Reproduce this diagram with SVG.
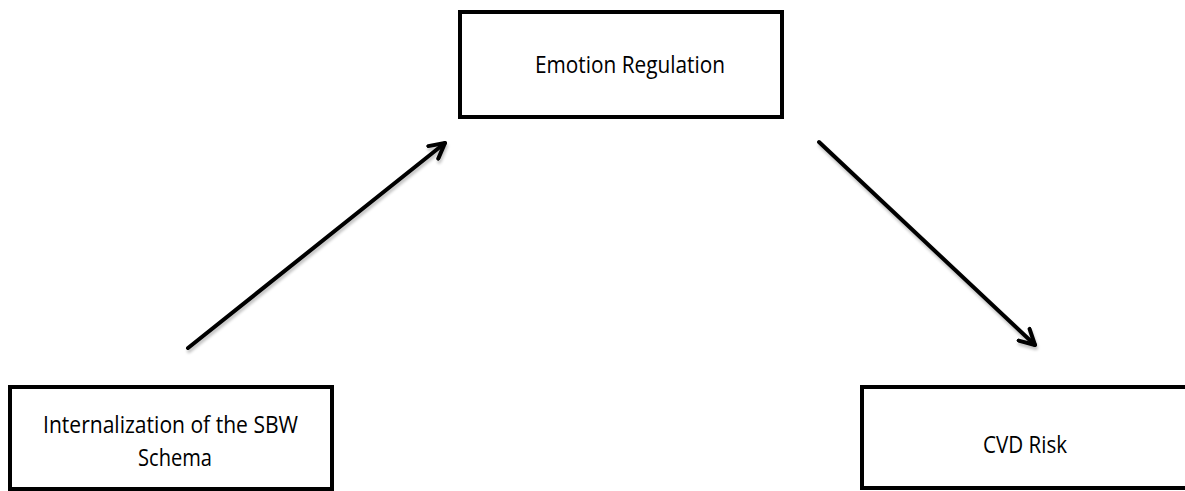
<svg xmlns="http://www.w3.org/2000/svg" width="1185" height="491" viewBox="0 0 1185 491">
  <style>
    .box { fill: #ffffff; stroke: #000000; stroke-width: 4; }
    .label { font-family: "Open Sans", Lato, "Liberation Sans", sans-serif; font-size: 24px; fill: #000000; text-anchor: middle; }
    .link { stroke: #000000; stroke-width: 4; fill: none; stroke-linecap: round; marker-end: url(#chevron); filter: url(#soft); }
  </style>
  <defs>
    <marker id="chevron" viewBox="0 0 10 10" refX="8.5" refY="5" markerWidth="5" markerHeight="5" markerUnits="strokeWidth" orient="auto">
      <path d="M1,1 L8.5,5 L1,9" fill="none" stroke="#000000" stroke-width="2" stroke-linecap="round" stroke-linejoin="round"/>
    </marker>
    <filter id="soft" x="-10%" y="-10%" width="120%" height="130%">
      <feGaussianBlur in="SourceAlpha" stdDeviation="1.5"/>
      <feOffset dx="1" dy="3" result="b"/>
      <feComponentTransfer><feFuncA type="linear" slope="0.25"/></feComponentTransfer>
      <feMerge><feMergeNode/><feMergeNode in="SourceGraphic"/></feMerge>
    </filter>
  </defs>

  <rect width="1185" height="491" fill="#ffffff"/>

  <g id="node-emotion-regulation">
    <rect class="box" x="460" y="12" width="322" height="105"/>
    <text class="label" x="630" y="73" textLength="190" lengthAdjust="spacingAndGlyphs">Emotion Regulation</text>
  </g>

  <g id="node-sbw-schema">
    <rect class="box" x="10" y="387" width="322" height="102"/>
    <text class="label" x="170.5" y="433" textLength="255" lengthAdjust="spacingAndGlyphs">Internalization of the SBW</text>
    <text class="label" x="175" y="466" textLength="74" lengthAdjust="spacingAndGlyphs">Schema</text>
  </g>

  <g id="node-cvd-risk">
    <rect class="box" x="862" y="387" width="330" height="101"/>
    <text class="label" x="1025" y="453" textLength="84" lengthAdjust="spacingAndGlyphs">CVD Risk</text>
  </g>

  <g id="connectors">
    <line class="link" x1="188" y1="348" x2="445" y2="143"/>
    <line class="link" x1="819" y1="142" x2="1035" y2="345"/>
    <line class="link" x1="407" y1="453" x2="793" y2="453"/>
  </g>
</svg>
